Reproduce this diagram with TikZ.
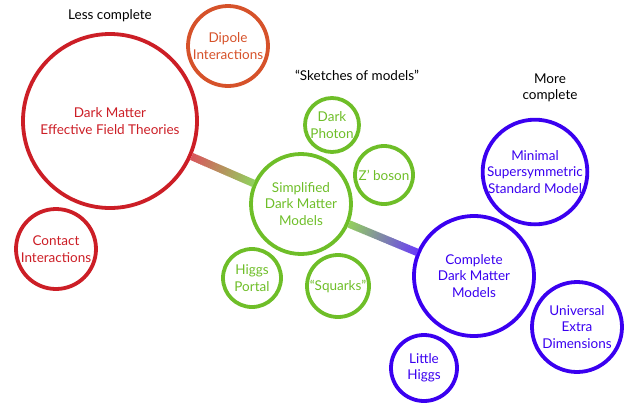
\documentclass[tikz,border=0pt]{standalone}
\usepackage{fontspec}
\setmainfont{Lato}
\usetikzlibrary{calc}

\definecolor{eftred}{RGB}{204,30,38}
\definecolor{dipred}{RGB}{214,82,42}
\definecolor{simgreen}{RGB}{110,190,40}
\definecolor{fullblue}{RGB}{58,0,240}

\begin{document}
\begin{tikzpicture}[x=1pt, y=-1pt, font=\fontsize{13.5}{16.5}\selectfont,
		bubble/.style={circle, draw, line width=3.8pt, inner sep=0pt, align=center, minimum size=#1},
		redb/.style={bubble=#1, eftred},
		orangeb/.style={bubble=#1, dipred},
		greenb/.style={bubble=#1, simgreen},
		blueb/.style={bubble=#1, fullblue}]
		\useasboundingbox (0,0) rectangle (627,405);
		
		% headings
		\node (less) at (110,16) {Less complete};
		\node (sketch) at (357,75) {“Sketches of models”};
		\node[align=center] (more) at (550,88) {More\\complete};
		
		% effective theories
		\node[redb=174] (eft) at (110,121) {Dark Matter\\Effective Field Theories};
		\node[orangeb=80] (dipole) at (228,46) {Dipole\\Interactions};
		\node[redb=80] (contact) at (56,249) {Contact\\Interactions};
		
		% simplified models
		\node[greenb=100] (simp) at (301,204) {Simplified\\Dark Matter\\Models};
		\node[greenb=54] (photon) at (332,125) {Dark\\Photon};
		\node[greenb=58] (zprime) at (384,175) {Z’ boson};
		\node[greenb=58] (higgs) at (252,278) {Higgs\\Portal};
		\node[greenb=62] (squarks) at (338,286) {“Squarks”};
		
		% complete models
		\node[blueb=120] (full) at (474,276) {Complete\\Dark Matter\\Models};
		\node[blueb=100] (mssm) at (535,172) {Minimal\\Supersymmetric\\Standard Model};
		\node[blueb=90] (ued) at (577,327) {Universal\\Extra\\Dimensions};
		\node[blueb=66] (little) at (424,368) {Little\\Higgs};
		
		% shaded bars
		\path (eft) -- (simp) coordinate[pos=0] (b1s) coordinate[pos=1] (b1e);
		\path (simp) -- (full) coordinate[pos=0] (b2s) coordinate[pos=1] (b2e);
		\foreach \i [evaluate=\i as \p using 100-\i*100/29] in {0,...,29} {
			\draw[line width=7.5pt, eftred!\p!simgreen!75!white] ($(b1s)!\i/30!(b1e)$) -- ($(b1s)!\i/30+0.04!(b1e)$);
			\draw[line width=7.5pt, simgreen!\p!fullblue!75!white] ($(b2s)!\i/30!(b2e)$) -- ($(b2s)!\i/30+0.04!(b2e)$);
		}
	\end{tikzpicture}
\end{document}
